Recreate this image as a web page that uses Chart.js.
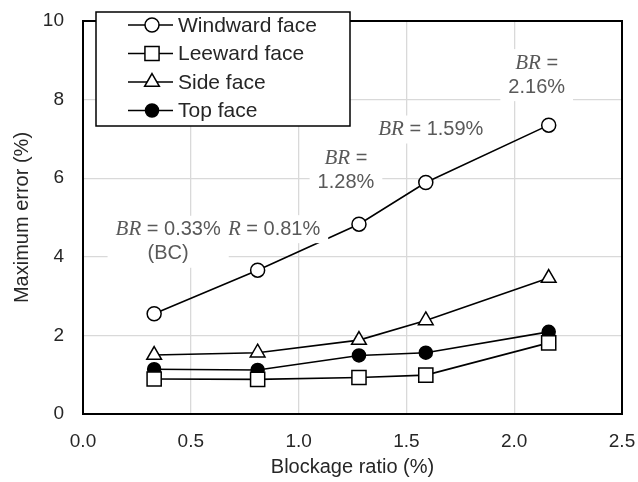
<!DOCTYPE html>
<html>
<head>
<meta charset="utf-8">
<script src="https://cdn.jsdelivr.net/npm/chart.js@4.4.0/dist/chart.umd.min.js"></script>
<style>
html, body { margin: 0; padding: 0; background: #fff; }
#wrap { width: 638px; height: 482px; }
</style>
</head>
<body>
<div id="wrap"><canvas id="canvas"></canvas></div>
<script>
// data
var blockage = [0.33, 0.81, 1.28, 1.59, 2.16];
var windward = [2.55, 3.66, 4.83, 5.89, 7.35];
var leeward = [0.89, 0.88, 0.93, 0.99, 1.81];
var sideFace = [1.50, 1.56, 1.88, 2.38, 3.46];
var topFace = [1.14, 1.12, 1.49, 1.56, 2.09];
var seriesNames = ["Windward face", "Leeward face", "Side face", "Top face"];
var xTicks = [0.0, 0.5, 1.0, 1.5, 2.0, 2.5];
var yTicks = [0, 2, 4, 6, 8, 10];
var brLabels = [
    ["BR = 0.33%", "(BC)"],
    ["BR = 0.81%"],
    ["BR =", "1.28%"],
    ["BR = 1.59%"],
    ["BR =", "2.16%"]
];
// pixel shift of each label box from its windward point
var labelShift = [[14, -72], [10, -41], [-13, -54], [5, -53], [-12, -50]];

var sans = "'Liberation Sans', Arial, sans-serif";
var ink = "#262626";

function pts(ys) {
    var out = [];
    for (var i = 0; i < blockage.length; i++) out.push({ x: blockage[i], y: ys[i] });
    return out;
}

function series(label, ys, style, radius, fill) {
    return {
        label: label,
        data: pts(ys),
        showLine: true,
        borderColor: "#000",
        borderWidth: 1.6,
        pointStyle: style,
        pointRadius: radius,
        pointHoverRadius: radius,
        pointBackgroundColor: fill,
        pointBorderColor: "#000",
        pointBorderWidth: 1.5
    };
}

function drawLabel(c, lines, cx, cy) {
    var lineH = 24, padX = 8, padY = 2;
    var italic = "italic 21px 'Liberation Serif', serif";
    var plain = "20px " + sans;
    var widths = [];
    var maxW = 0;
    lines.forEach(function (t) {
        var w;
        if (t.indexOf("BR") === 0) {
            c.font = italic; w = c.measureText("BR").width;
            c.font = plain; w += c.measureText(t.slice(2)).width;
        } else {
            c.font = plain; w = c.measureText(t).width;
        }
        widths.push(w);
        if (w > maxW) maxW = w;
    });
    var h = lines.length * lineH;
    c.fillStyle = "#fff";
    c.fillRect(cx - maxW / 2 - padX, cy - h / 2 - padY, maxW + 2 * padX, h + 2 * padY);
    c.fillStyle = "#595959";
    c.textBaseline = "middle";
    c.textAlign = "left";
    lines.forEach(function (t, k) {
        var x = cx - widths[k] / 2;
        var y = cy - h / 2 + lineH * (k + 0.5);
        if (t.indexOf("BR") === 0) {
            c.font = italic; c.fillText("BR", x, y);
            x += c.measureText("BR").width;
            c.font = plain; c.fillText(t.slice(2), x, y);
        } else {
            c.font = plain; c.fillText(t, x, y);
        }
    });
}

function drawLegend(chart) {
    var c = chart.ctx;
    var x0 = chart.chartArea.left + 13, y0 = chart.chartArea.top - 9, w = 254, h = 114;
    c.save();
    c.fillStyle = "#fff";
    c.fillRect(x0, y0, w, h);
    c.strokeStyle = "#000";
    c.lineWidth = 1.5;
    c.strokeRect(x0, y0, w, h);
    chart.data.datasets.forEach(function (ds, i) {
        var y = y0 + 13 + i * 28.5;
        c.strokeStyle = "#000";
        c.lineWidth = 1.6;
        c.beginPath();
        c.moveTo(x0 + 32, y);
        c.lineTo(x0 + 77, y);
        c.stroke();
        c.fillStyle = ds.pointBackgroundColor;
        c.strokeStyle = ds.pointBorderColor;
        c.lineWidth = ds.pointBorderWidth;
        Chart.helpers.drawPoint(c, {
            pointStyle: ds.pointStyle,
            radius: ds.pointRadius,
            borderWidth: ds.pointBorderWidth,
            rotation: 0
        }, x0 + 56, y);
        c.fillStyle = ink;
        c.font = "21px " + sans;
        c.textBaseline = "middle";
        c.textAlign = "left";
        c.fillText(ds.label, x0 + 82, y + 1);
    });
    c.restore();
}

var deco = {
    id: "deco",
    beforeDatasetsDraw: function (chart) {
        var a = chart.chartArea, c = chart.ctx;
        c.save();
        c.strokeStyle = "#000";
        c.lineWidth = 2;
        c.strokeRect(a.left, a.top, a.right - a.left, a.bottom - a.top);
        c.restore();
    },
    afterDatasetsDraw: function (chart) {
        var c = chart.ctx, xs = chart.scales.x, ys = chart.scales.y;
        c.save();
        for (var i = brLabels.length - 1; i >= 0; i--) {
            var px = xs.getPixelForValue(blockage[i]) + labelShift[i][0];
            var py = ys.getPixelForValue(windward[i]) + labelShift[i][1];
            drawLabel(c, brLabels[i], px, py);
        }
        c.restore();
        drawLegend(chart);
    }
};

new Chart(document.getElementById("canvas"), {
    type: "scatter",
    data: {
        datasets: [
            series(seriesNames[0], windward, "circle", 7, "#fff"),
            series(seriesNames[1], leeward, "rect", 10, "#fff"),
            series(seriesNames[2], sideFace, "triangle", 8.5, "#fff"),
            series(seriesNames[3], topFace, "circle", 6.5, "#000")
        ]
    },
    plugins: [deco],
    options: {
        responsive: true,
        maintainAspectRatio: false,
        animation: false,
        layout: { padding: { top: 21, right: 16, left: 0, bottom: 0 } },
        plugins: {
            legend: { display: false },
            tooltip: { enabled: false }
        },
        scales: {
            x: {
                type: "linear",
                min: xTicks[0],
                max: xTicks[xTicks.length - 1],
                afterBuildTicks: function (s) {
                    s.ticks = xTicks.map(function (v) { return { value: v }; });
                },
                afterFit: function (s) {
                    s.height = 68;
                    s.paddingLeft = 0;
                    s.paddingRight = 0;
                },
                ticks: {
                    padding: 16,
                    color: ink,
                    font: { family: sans, size: 19 },
                    callback: function (v) { return Number(v).toFixed(1); }
                },
                grid: { color: "#d9d9d9", lineWidth: 1.3, drawTicks: false },
                border: { color: "#000", width: 2 },
                title: {
                    display: true,
                    text: "Blockage ratio (%)",
                    color: ink,
                    font: { family: sans, size: 20 },
                    padding: { top: 0, bottom: 3 }
                }
            },
            y: {
                type: "linear",
                min: yTicks[0],
                max: yTicks[yTicks.length - 1],
                afterBuildTicks: function (s) {
                    s.ticks = yTicks.map(function (v) { return { value: v }; });
                },
                afterFit: function (s) {
                    s.width = 83;
                    s.paddingTop = 0;
                    s.paddingBottom = 0;
                },
                ticks: {
                    padding: 19,
                    color: ink,
                    font: { family: sans, size: 19 }
                },
                grid: { color: "#d9d9d9", lineWidth: 1.3, drawTicks: false },
                border: { color: "#000", width: 2 },
                title: {
                    display: true,
                    text: "Maximum error (%)",
                    color: ink,
                    font: { family: sans, size: 20 },
                    padding: { top: 10, bottom: 0 }
                }
            }
        }
    }
});
</script>
</body>
</html>
